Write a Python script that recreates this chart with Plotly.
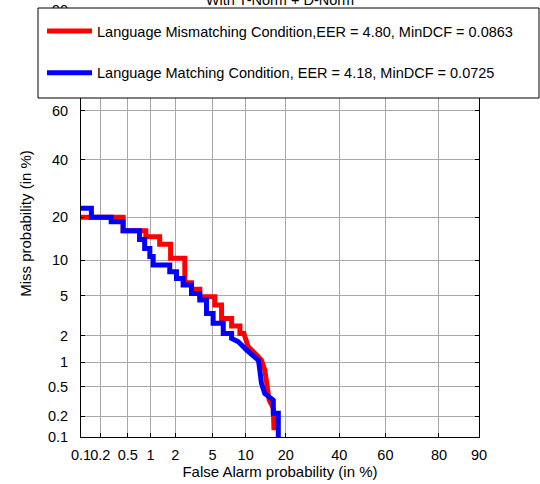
from statistics import NormalDist
import plotly.graph_objects as go

# ---- data (percent) ----
tick_vals = [0.1, 0.2, 0.5, 1, 2, 5, 10, 20, 40, 60, 80, 90]
tick_text = ["0.1", "0.2", "0.5", "1", "2", "5", "10", "20", "40", "60", "80", "90"]

red_name = "Language Mismatching Condition,EER = 4.80, MinDCF = 0.0863"
red_pfa = [0.08, 0.43, 0.43, 0.87, 0.87, 1.30, 1.30, 1.76, 1.76, 2.56, 2.56, 3.03, 3.03, 3.71, 3.71,
           5.26, 5.26, 6.10, 6.10, 7.55, 7.55, 8.94, 8.94, 9.67, 9.86, 10.5, 12.3, 13.4, 14.2,
           14.8, 15.3, 16.4, 16.6]
red_pmiss = [20.0, 20.0, 16.4, 16.4, 14.9, 14.9, 13.2, 13.2, 10.4, 10.4, 6.54, 6.54, 5.72, 5.72, 4.91,
             4.91, 4.10, 4.10, 3.03, 3.03, 2.54, 2.54, 2.12, 2.12, 1.95, 1.51, 1.22, 1.06, 0.81,
             0.55, 0.334, 0.26, 0.126]

blue_name = "Language Matching Condition, EER = 4.18, MinDCF = 0.0725"
blue_pfa = [0.08, 0.146, 0.146, 0.29, 0.29, 0.43, 0.43, 0.72, 0.72, 0.84, 0.84, 0.98, 0.98, 1.08, 1.08,
            1.72, 1.72, 2.06, 2.06, 2.45, 2.45, 3.03, 3.03, 3.71, 3.71, 4.35, 4.35, 5.06, 5.06,
            6.33, 6.33, 7.55, 7.55, 8.65, 10.2, 11.9, 12.7, 13.0, 13.4, 14.2, 16.4, 16.4, 17.8, 17.8]
blue_pmiss = [22.7, 22.7, 20.0, 20.0, 18.8, 18.8, 16.4, 16.4, 14.3, 14.3, 12.3, 12.3, 10.7, 10.7, 9.18,
              9.18, 8.09, 8.09, 7.13, 7.13, 6.24, 6.24, 5.26, 5.26, 4.57, 4.57, 3.40, 3.40, 2.70,
              2.70, 2.12, 2.12, 1.87, 1.72, 1.39, 1.12, 1.06, 0.81, 0.55, 0.41, 0.334, 0.22, 0.22, 0.05]

_nd = NormalDist()


def probit(v):
    return [_nd.inv_cdf(p / 100.0) for p in v]


FONT = "Liberation Sans, Arial, sans-serif"

fig = go.Figure()
fig.add_trace(go.Scatter(x=probit(red_pfa), y=probit(red_pmiss), mode="lines", name=red_name,
                         line=dict(color="#ff0000", width=5), legendgroup="a"))
fig.add_trace(go.Scatter(x=probit(blue_pfa), y=probit(blue_pmiss), mode="lines", name=blue_name,
                         line=dict(color="#0000ff", width=5), legendgroup="b"))

rng = [_nd.inv_cdf(0.001), _nd.inv_cdf(0.9)]
axis_common = dict(
    range=rng, tickvals=probit(tick_vals), ticktext=tick_text, tickangle=0,
    showgrid=True, gridcolor="#a8a8a8", gridwidth=1,
    showline=True, linecolor="black", linewidth=1, mirror="ticks",
    ticks="inside", ticklen=4, tickcolor="black", automargin=False,
    zeroline=False, tickfont=dict(family=FONT, size=14.5, color="black"),
)

fig.update_xaxes(**axis_common, ticklabelstandoff=5,
                 title=dict(text="False Alarm probability (in %)", standoff=3,
                            font=dict(family=FONT, size=15, color="black")))
fig.update_yaxes(**axis_common, ticklabelstandoff=9,
                 title=dict(text="Miss probability (in %)", standoff=12,
                            font=dict(family=FONT, size=15, color="black")))

W, H = 540, 484
L, R, T, B = 81, 61, 10, 47
pw, ph = W - L - R, H - T - B


def px_x(p):
    return (p - L) / pw


def px_y(p):
    return (H - B - p) / ph


fig.add_shape(type="rect", xref="paper", yref="paper", layer="above",
              x0=px_x(38), x1=px_x(539), y0=px_y(98), y1=px_y(8),
              fillcolor="white", line=dict(color="black", width=1))

fig.update_layout(
    width=W, height=H, margin=dict(l=L, r=R, t=T, b=B, autoexpand=False),
    paper_bgcolor="white", plot_bgcolor="white",
    font=dict(family=FONT, size=14, color="black"),
    title=dict(text="With T-Norm + D-Norm", x=0.5, xref="paper", y=1.0, yref="container",
               yanchor="middle", font=dict(family=FONT, size=14.5, color="black")),
    showlegend=True,
    legend=dict(x=px_x(42), y=px_y(15), xanchor="left", yanchor="top",
                bgcolor="rgba(0,0,0,0)", borderwidth=0, itemwidth=45,
                tracegroupgap=20, traceorder="grouped",
                font=dict(family=FONT, size=14.5, color="black")),
)

fig.write_html("out.html")
